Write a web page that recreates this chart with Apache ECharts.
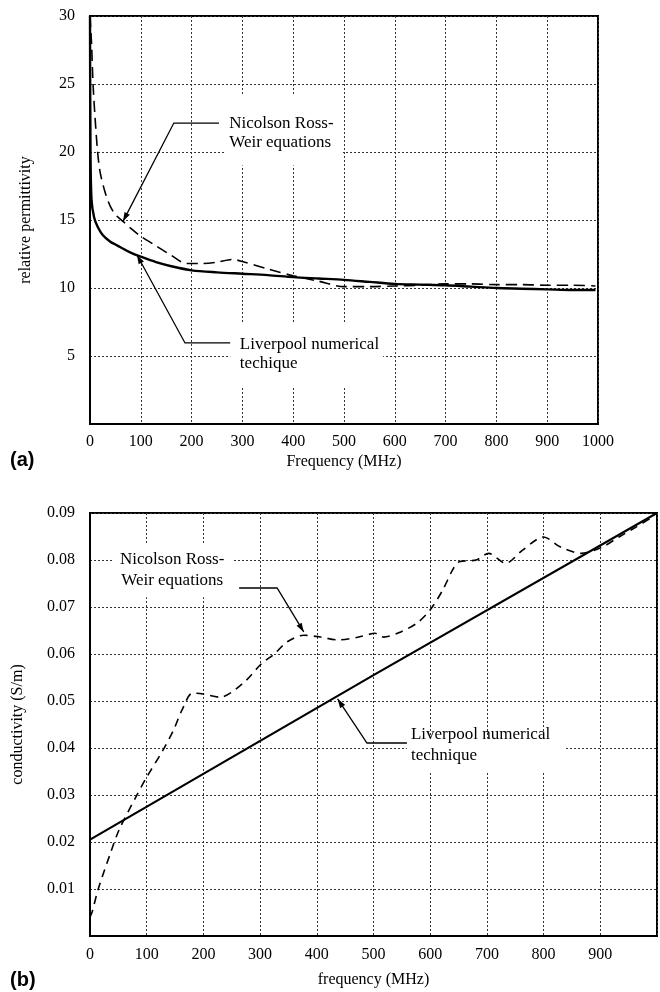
<!DOCTYPE html>
<html>
<head>
<meta charset="utf-8">
<script src="https://cdn.jsdelivr.net/npm/echarts@6.0.0/dist/echarts.min.js"></script>
<style>
html,body{margin:0;padding:0;background:#fff;}
#c{width:660px;height:992px;}
</style>
</head>
<body>
<div id="c"></div>
<script>
// ---------- data ----------
// (a) relative permittivity
const freqA_nrw = [0,3,6,10,15,20,30,40,50,65,80,100,130,160,190,220,250,280,300,350,400,450,500,550,600,650,700,750,800,850,900,950,995];
const permA_nrw = [30,28,25,22.5,20,18.5,17,16,15.4,14.9,14.4,13.8,13.1,12.4,11.8,11.8,11.9,12.1,11.95,11.4,10.9,10.5,10.1,10.1,10.15,10.2,10.3,10.3,10.25,10.25,10.2,10.2,10.15];
const freqA_liv = [0,1,3,8,15,25,40,50,60,80,100,130,160,200,250,300,350,400,450,500,550,600,650,700,750,800,850,900,950,995];
const permA_liv = [30,20,16.5,15.2,14.5,13.9,13.4,13.2,13.0,12.6,12.3,11.9,11.6,11.3,11.15,11.05,10.95,10.8,10.7,10.6,10.45,10.3,10.25,10.2,10.1,10.0,9.95,9.9,9.85,9.85];
// (b) conductivity
const freqB_nrw = [0,4,14,36,51,81,99,129,148,162,181,199,229,270,303,325,348,377,407,437,474,503,518,548,577,600,622,640,651,681,703,733,763,800,829,866,904,933,963,993];
const condB_nrw = [0.004,0.0052,0.0098,0.0176,0.0225,0.0296,0.0336,0.0396,0.0440,0.0480,0.0517,0.0515,0.0508,0.0538,0.0580,0.0600,0.0626,0.0640,0.0636,0.0630,0.0636,0.0644,0.0636,0.0647,0.0666,0.0694,0.0736,0.0780,0.0796,0.0800,0.0814,0.0793,0.0821,0.0849,0.0828,0.0814,0.0828,0.0849,0.0870,0.0892];
const freqB_liv = [0,500,1000];
const condB_liv = [0.0205,0.0555,0.0900];
// tick settings
const xTicksA = {min:0,max:1000,interval:100};
const yTicksA = {min:0,max:30,interval:5};
const xTicksB = {min:0,max:1000,interval:100};
const yTicksB = {min:0,max:0.09,interval:0.01};

const zip = (xs, ys) => xs.map((x,i)=>[x, ys[i]]);
const SERIF = '"Liberation Serif","Times New Roman",serif';

const chart = echarts.init(document.getElementById('c'), null, {renderer:'canvas'});

const splitStyle = {show:true, lineStyle:{color:'#333', width:1, type:[2,2]}};
const axisLineStyle = {show:true, lineStyle:{color:'#000', width:2}};

function xAxisCfg(gi, ticks, name, gap, margin, hideLast){
  return {type:'value', gridIndex:gi, min:ticks.min, max:ticks.max, interval:ticks.interval,
    name:name, nameLocation:'middle', nameGap:gap,
    nameTextStyle:{fontFamily:SERIF, fontSize:16, color:'#000'},
    axisLine:axisLineStyle, axisTick:{show:false}, splitLine:splitStyle,
    axisLabel:{fontFamily:SERIF, fontSize:16, color:'#000', margin:margin,
      formatter: v => (hideLast && v===ticks.max) ? '' : String(v)}};
}
function yAxisCfg(gi, ticks, name, gap, dec){
  return {type:'value', gridIndex:gi, min:ticks.min, max:ticks.max, interval:ticks.interval,
    name:name, nameLocation:'middle', nameGap:gap,
    nameTextStyle:{fontFamily:SERIF, fontSize:16, color:'#000'},
    axisLine:axisLineStyle, axisTick:{show:false}, splitLine:splitStyle,
    axisLabel:{fontFamily:SERIF, fontSize:16, color:'#000', margin:15,
      formatter: v => Math.abs(v) < 1e-9 ? '' : (dec ? v.toFixed(dec) : String(v))}};
}

const option = {
  animation:false,
  backgroundColor:'#fff',
  grid:[
    {left:90, top:16, width:508, height:408, show:true, borderColor:'#000', borderWidth:2, backgroundColor:'transparent'},
    {left:90, top:513, width:567, height:423, show:true, borderColor:'#000', borderWidth:2, backgroundColor:'transparent'}
  ],
  xAxis:[
    xAxisCfg(0, xTicksA, 'Frequency (MHz)', 30, 10, false),
    xAxisCfg(1, xTicksB, 'frequency (MHz)', 36, 11, true)
  ],
  yAxis:[
    yAxisCfg(0, yTicksA, 'relative permittivity', 56, 0),
    yAxisCfg(1, yTicksB, 'conductivity (S/m)', 64, 2)
  ],
  series:[
    {name:'Nicolson Ross-Weir (a)', type:'line', xAxisIndex:0, yAxisIndex:0, data:zip(freqA_nrw, permA_nrw),
      smooth:0.3, showSymbol:false, lineStyle:{color:'#000', width:1.6, type:[11,6]}, z:3},
    {name:'Liverpool (a)', type:'line', xAxisIndex:0, yAxisIndex:0, data:zip(freqA_liv, permA_liv),
      smooth:0.3, showSymbol:false, lineStyle:{color:'#000', width:2.4}, z:3},
    {name:'Nicolson Ross-Weir (b)', type:'line', xAxisIndex:1, yAxisIndex:1, data:zip(freqB_nrw, condB_nrw),
      smooth:0.3, showSymbol:false, lineStyle:{color:'#000', width:1.6, type:[8,6]}, z:3},
    {name:'Liverpool (b)', type:'line', xAxisIndex:1, yAxisIndex:1, data:zip(freqB_liv, condB_liv),
      showSymbol:false, lineStyle:{color:'#000', width:2.2}, z:3}
  ]
};
chart.setOption(option);

// ---------- annotations (anchored in data coordinates) ----------
const annotations = [
  {grid:0, box:[[266,24.2],[498,19.0]], lines:[['Nicolson Ross-',[274,22.13]],['Weir equations',[274,20.66]]], align:'left',
    leader:[[254,22.13],[165,22.13],[65,14.9]]},
  {grid:0, box:[[276,7.5],[577,2.72]], lines:[['Liverpool numerical',[295,5.85]],['techique',[295,4.45]]], align:'left',
    leader:[[276,5.96],[187,5.96],[92.5,12.43]]},
  {grid:1, box:[[40,0.0832],[252,0.0721]], lines:[['Nicolson Ross-',[145,0.0800]],['Weir equations',[145,0.0757]]], align:'center',
    leader:[[263,0.07404],[330,0.07404],[377,0.0647]]},
  {grid:1, box:[[559,0.0421],[838,0.0347]], lines:[['Liverpool numerical',[566,0.0428]],['technique',[566,0.0385]]], align:'left',
    leader:[[559,0.04106],[488.5,0.04106],[436.7,0.05043]]}
];

const graphics = [];
const px = (g, p) => chart.convertToPixel({gridIndex:g}, p);
annotations.forEach(a => {
  const b0 = px(a.grid, a.box[0]), b1 = px(a.grid, a.box[1]);
  graphics.push({type:'rect', z:1, silent:true,
    shape:{x:Math.min(b0[0],b1[0]), y:Math.min(b0[1],b1[1]), width:Math.abs(b1[0]-b0[0]), height:Math.abs(b1[1]-b0[1])},
    style:{fill:'#fff'}});
  a.lines.forEach(([t,p]) => {
    const q = px(a.grid, p);
    graphics.push({type:'text', z:10, silent:true,
      style:{text:t, x:q[0], y:q[1], font:'17px ' + SERIF, fill:'#000', textAlign:a.align, textVerticalAlign:'middle'}});
  });
  const pts = a.leader.map(p => px(a.grid, p));
  graphics.push({type:'polyline', z:10, silent:true, shape:{points:pts}, style:{stroke:'#000', lineWidth:1.3, fill:null}});
  const T = pts[pts.length-1], P = pts[pts.length-2];
  let dx = T[0]-P[0], dy = T[1]-P[1]; const L = Math.hypot(dx,dy); dx/=L; dy/=L;
  const len = 9, w = 3;
  const bx = T[0]-dx*len, by = T[1]-dy*len;
  graphics.push({type:'polygon', z:10, silent:true,
    shape:{points:[[T[0],T[1]],[bx-dy*w, by+dx*w],[bx+dy*w, by-dx*w]]}, style:{fill:'#000'}});
});
graphics.push({type:'text', z:10, silent:true, style:{text:'(a)', x:10, y:460, font:'bold 20px "Liberation Sans",Arial,sans-serif', fill:'#000', textVerticalAlign:'middle'}});
graphics.push({type:'text', z:10, silent:true, style:{text:'(b)', x:10, y:980, font:'bold 20px "Liberation Sans",Arial,sans-serif', fill:'#000', textVerticalAlign:'middle'}});
chart.setOption({graphic:graphics});
</script>
</body>
</html>
